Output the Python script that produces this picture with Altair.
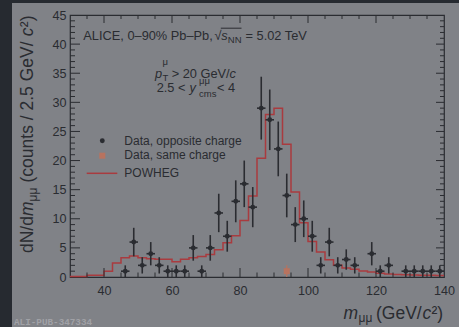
import altair as alt
import pandas as pd

# ---------------- data ----------------
bin_width = 2.5
bin_lo = [30 + bin_width * i for i in range(44)]          # lower bin edges 30 ... 137.5
bin_center = [b + bin_width / 2 for b in bin_lo]

opp_counts = [0, 0, 0, 0, 0, 0, 1, 6, 2, 4, 2, 1, 1, 1, 5, 1, 5, 11, 7, 13, 16, 12,
              29, 27, 22, 14, 9, 10, 7, 2, 6, 2, 3, 2, 0, 4, 1, 2, 0, 1, 1, 1, 1, 1]
opp_err = [0, 0, 0, 0, 0, 0, 1.0, 2.45, 1.4, 2.0, 1.4, 1.0, 1.0, 1.0, 2.2, 1.0, 2.2, 3.3,
           2.65, 3.6, 4.0, 3.45, 5.4, 5.2, 4.7, 3.75, 3.0, 3.15, 2.65, 1.4, 2.45, 1.4,
           1.75, 1.4, 0, 2.0, 1.0, 1.4, 0, 1.0, 1.0, 1.0, 1.0, 1.0]

powheg = [0.1, 0.1, 0.3, 0.3, 1.0, 2.4, 3.3, 3.6, 3.3, 3.15,
          3.05, 3.05, 2.6, 3.05, 3.3, 3.5, 3.85, 4.7, 5.9, 7.1,
          9.7, 13.9, 20.4, 27.9, 29.0, 22.8, 14.6, 9.3, 6.1, 4.3,
          2.95, 2.0, 1.55, 1.35, 1.05, 0.85, 0.65, 0.5, 0.45, 0.4,
          0.35, 0.3, 0.3, 0.25]

same_center = [93.75]
same_counts = [1]
same_err = [1.0]

x_major = [40, 60, 80, 100, 120]
x_minor = [v for v in range(35, 140, 5) if v % 20 != 0]
y_major = [5, 10, 15, 20, 25, 30, 35, 40]
y_minor = [v for v in range(1, 45) if v % 5 != 0]
x_labels = [40, 60, 80, 100, 120, 140]
y_labels = [0, 5, 10, 15, 20, 25, 30, 35, 40, 45]

# ---------------- style ----------------
W, H = 374, 262
BG = "#808287"
STRIP = "#262a30"
DARK = "#2a2c31"
RED = "#a93b3f"
ORANGE = "#b8735f"
FONT = "Liberation Sans"

xs = alt.Scale(domain=[30, 140], nice=False, zero=False)
ys = alt.Scale(domain=[0, 45], nice=False, zero=False)
XAX = alt.Axis(title=None, values=x_labels, grid=False, ticks=False, tickSize=0, domain=False,
               labelFontSize=12.6, labelColor=DARK, labelFont=FONT, labelPadding=7,
               labelFlush=False, labelOverlap=False)
YAX = alt.Axis(title=None, values=y_labels, grid=False, ticks=False, tickSize=0, domain=False,
               labelFontSize=12.6, labelColor=DARK, labelFont=FONT, labelPadding=4,
               labelOverlap=False)


def X(f):
    return alt.X(f, type="quantitative", scale=xs, axis=XAX)


def Y(f):
    return alt.Y(f, type="quantitative", scale=ys, axis=YAX)


# ---------------- tables ----------------
opp = pd.DataFrame({"m": bin_center, "n": opp_counts, "e": opp_err})
opp = opp[opp["n"] > 0].copy()
opp["lo"] = opp["n"] - opp["e"]
opp["hi"] = opp["n"] + opp["e"]
opp["mlo"] = opp["m"] - bin_width / 2
opp["mhi"] = opp["m"] + bin_width / 2

same = pd.DataFrame({"m": same_center, "n": same_counts, "e": same_err})
same["lo"] = same["n"] - same["e"]
same["hi"] = same["n"] + same["e"]

pw = pd.DataFrame({"x": bin_lo + [bin_lo[-1] + bin_width], "y": powheg + [powheg[-1]]})

ONE = pd.DataFrame({"k": [0]})

layers = []

# background strips (frame of the screenshot)
layers.append(alt.Chart(ONE).mark_rect(color=STRIP).encode(
    x=alt.value(-70), x2=alt.value(-58), y=alt.value(-15), y2=alt.value(312)))
layers.append(alt.Chart(ONE).mark_rect(color=STRIP).encode(
    x=alt.value(-70), x2=alt.value(389), y=alt.value(-15), y2=alt.value(-12)))

# POWHEG step histogram
layers.append(alt.Chart(pw).mark_line(color=RED, strokeWidth=1.5, interpolate="step-after").encode(
    x=X("x"), y=Y("y")))

# opposite-charge data
layers.append(alt.Chart(opp).mark_rule(color=DARK, strokeWidth=1.6).encode(
    x=X("m"), y=Y("lo"), y2="hi"))
layers.append(alt.Chart(opp).mark_rule(color=DARK, strokeWidth=1.6).encode(
    x=X("mlo"), x2="mhi", y=Y("n")))
layers.append(alt.Chart(opp).mark_circle(color=DARK, opacity=1, size=24).encode(
    x=X("m"), y=Y("n")))

# same-charge data
layers.append(alt.Chart(same).mark_rule(color=ORANGE, strokeWidth=1.2).encode(
    x=X("m"), y=Y("lo"), y2="hi"))
layers.append(alt.Chart(same).mark_square(color=ORANGE, opacity=1, size=36).encode(
    x=X("m"), y=Y("n")))


# inward ticks (ROOT style) on all four sides
def xticks(vals, length, top):
    d = pd.DataFrame({"t": vals})
    if top:
        enc = dict(y=alt.value(0), y2=alt.value(length))
    else:
        enc = dict(y=alt.value(H), y2=alt.value(H - length))
    return alt.Chart(d).mark_rule(color=DARK, strokeWidth=1).encode(x=X("t"), **enc)


def yticks(vals, length, right):
    d = pd.DataFrame({"t": vals})
    if right:
        enc = dict(x=alt.value(W), x2=alt.value(W - length))
    else:
        enc = dict(x=alt.value(0), x2=alt.value(length))
    return alt.Chart(d).mark_rule(color=DARK, strokeWidth=1).encode(y=Y("t"), **enc)


layers += [
    xticks(x_major, 9, False), xticks(x_minor, 4.5, False),
    xticks(x_major, 8, True), xticks(x_minor, 4, True),
    yticks(y_major, 10, False), yticks(y_minor, 5, False),
    yticks(y_major, 8, True), yticks(y_minor, 4, True),
]


# ---------------- text ----------------
def txt(s, x, y, size, italic=False, angle=None, color=DARK, font=FONT, weight=None):
    kw = dict(text=s, fontSize=size, font=font, color=color, align="left", baseline="alphabetic")
    if italic:
        kw["fontStyle"] = "italic"
    if angle is not None:
        kw["angle"] = angle
    if weight is not None:
        kw["fontWeight"] = weight
    return alt.Chart(ONE).mark_text(**kw).encode(x=alt.value(x), y=alt.value(y))


F = 12.8
S = 9.5
layers += [
    # ALICE header
    txt("ALICE, 0\u201390% Pb\u2013Pb,", 13.3, 25, F),
    txt("\u221a", 144.5, 25, F),
    txt("s", 151.3, 25, F, italic=True),
    txt("NN", 157.8, 27.5, S),
    txt("= 5.02 TeV", 175.5, 25, F),
    # pT cut
    txt("p", 85, 63.3, F, italic=True),
    txt("T", 92.5, 65.8, S),
    txt("\u03bc", 92.5, 49.8, S),
    txt("> 20 GeV/", 101.7, 63.3, F),
    txt("c", 159.5, 63.3, F, italic=True),
    # rapidity
    txt("2.5 <", 86.7, 76.7, F),
    txt("y", 119.5, 76.7, F, italic=True),
    txt("cms", 129, 81.5, S),
    txt("\u03bc\u03bc", 129, 68.5, S),
    txt("< 4", 147, 76.7, F),
    # legend
    txt("Data, opposite charge", 54.3, 129.5, 12),
    txt("Data, same charge", 54.3, 144.3, 12),
    txt("POWHEG", 54.3, 161.5, 12),
    # x title
    txt("m", 273.5, 304, 17.5, italic=True),
    txt("\u03bc\u03bc", 288.5, 306.5, 12),
    txt("(GeV/", 306, 304, 17.5),
    txt("c", 352.5, 304, 17.5, italic=True),
    txt("\u00b2)", 361.5, 304, 17.5),
    # y title (rotated)
    txt("dN/d", -37, 238, 17.5, angle=270),
    txt("m", -37, 201, 17.5, italic=True, angle=270),
    txt("\u03bc\u03bc", -33.5, 186.5, 12, angle=270),
    txt("(counts / 2.5 GeV/", -37, 167.5, 17.5, angle=270),
    txt("c", -37, 21.2, 17.5, italic=True, angle=270),
    txt("\u00b2)", -37, 12.2, 17.5, angle=270),
    # watermark
    txt("ALI-PUB-347334", -56, 310, 9.3, color="#a0a1a6", font="Liberation Mono", weight="bold"),
]

# sqrt overline
layers.append(alt.Chart(ONE).mark_rule(color=DARK, strokeWidth=1).encode(
    x=alt.value(150.8), x2=alt.value(171.5), y=alt.value(13.2)))

# legend symbols
layers.append(alt.Chart(ONE).mark_circle(color=DARK, opacity=1, size=24).encode(
    x=alt.value(32.3), y=alt.value(125.7)))
layers.append(alt.Chart(ONE).mark_square(color=ORANGE, opacity=1, size=36).encode(
    x=alt.value(32.3), y=alt.value(140.7)))
layers.append(alt.Chart(ONE).mark_rule(color=RED, strokeWidth=1.5).encode(
    x=alt.value(16.7), x2=alt.value(47.3), y=alt.value(158.3)))

chart = alt.layer(*layers).properties(
    width=W, height=H,
    padding={"left": 70, "top": 15, "right": 15, "bottom": 50},
    autosize=alt.AutoSizeParams(type="none"),
    background=BG,
).configure_view(stroke=DARK, strokeWidth=1.2)

chart.save("out.html", embed_options={"renderer": "svg", "actions": False})
